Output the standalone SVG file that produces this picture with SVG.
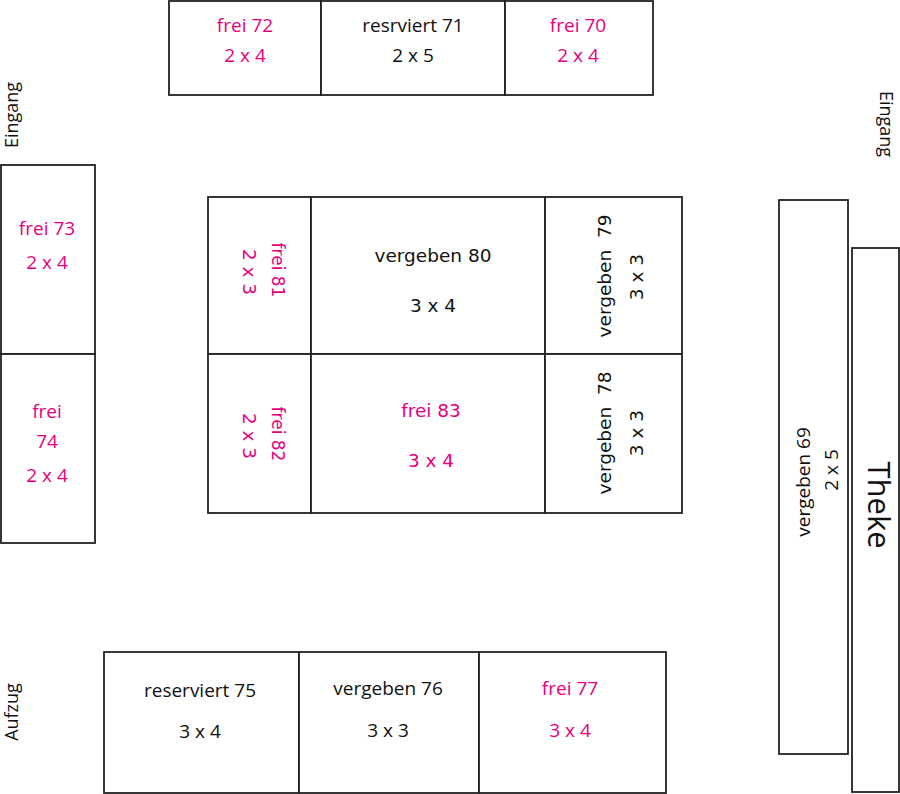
<svg xmlns="http://www.w3.org/2000/svg" width="900" height="794" viewBox="0 0 900 794">
<style>
.b{fill:#fff;stroke:#222;stroke-width:1.8}
.t{font-family:"Open Sans","DejaVu Sans",sans-serif;font-size:19px;text-anchor:middle;fill:#111}
.f{fill:#e6007e}
.m{font-family:"DejaVu Sans",sans-serif;font-size:18.5px}
.s{font-size:18px}
.p{white-space:pre}
</style>
<rect width="900" height="794" fill="#fff"/>
<g id="s72"><rect class="b" x="169" y="1" width="152" height="94"/><text class="t f" x="245" y="32">frei 72</text><text class="t f" x="245" y="62">2 x 4</text></g>
<g id="s71"><rect class="b" x="321" y="1" width="184" height="94"/><text class="t" x="413" y="32">resrviert 71</text><text class="t" x="413" y="62">2 x 5</text></g>
<g id="s70"><rect class="b" x="505" y="1" width="148" height="94"/><text class="t f" x="578" y="32">frei 70</text><text class="t f" x="578" y="62">2 x 4</text></g>

<g id="eingang1"><text class="t s" transform="translate(18,115) rotate(-90)">Eingang</text></g>
<g id="s73"><rect class="b" x="1" y="165" width="94" height="189"/><text class="t f" x="47" y="235">frei 73</text><text class="t f" x="47" y="269">2 x 4</text></g>
<g id="s74"><rect class="b" x="1" y="354" width="94" height="189"/><text class="t f" x="47" y="418">frei</text><text class="t f" x="47" y="448">74</text><text class="t f" x="47" y="482">2 x 4</text></g>

<g id="s81"><rect class="b" x="208" y="197" width="103" height="157"/><text class="t m f" style="font-size:17px" transform="translate(272,270) rotate(90)">frei 81</text><text class="t m f" transform="translate(243,272) rotate(90)">2 x 3</text></g>
<g id="s80"><rect class="b" x="311" y="197" width="234" height="157"/><text class="t m" x="433" y="262">vergeben 80</text><text class="t m" x="433" y="312">3 x 4</text></g>
<g id="s79"><rect class="b" x="545" y="197" width="137" height="157"/><text class="t m p" transform="translate(611,276) rotate(-90)">vergeben  79</text><text class="t m" transform="translate(643,277) rotate(-90)">3 x 3</text></g>
<g id="s82"><rect class="b" x="208" y="354" width="103" height="159"/><text class="t m f" style="font-size:17px" transform="translate(272,434) rotate(90)">frei 82</text><text class="t m f" transform="translate(243,436) rotate(90)">2 x 3</text></g>
<g id="s83"><rect class="b" x="311" y="354" width="234" height="159"/><text class="t m f" x="431" y="417">frei 83</text><text class="t m f" x="431" y="467">3 x 4</text></g>
<g id="s78"><rect class="b" x="545" y="354" width="137" height="159"/><text class="t m p" transform="translate(611,433) rotate(-90)">vergeben  78</text><text class="t m" transform="translate(643,433) rotate(-90)">3 x 3</text></g>

<g id="eingang2"><text class="t s" transform="translate(880,124) rotate(90)">Eingang</text></g>
<g id="s69"><rect class="b" x="779" y="200" width="69" height="554"/><text class="t" transform="translate(810,482) rotate(-90)">vergeben 69</text><text class="t" transform="translate(838,470) rotate(-90)">2 x 5</text></g>
<g id="theke"><rect class="b" x="852" y="248" width="47" height="544"/><text class="t" style="font-size:31px" transform="translate(868,505) rotate(90)">Theke</text></g>

<g id="aufzug"><text class="t s" transform="translate(18,712) rotate(-90)">Aufzug</text></g>
<g id="s75"><rect class="b" x="104" y="652" width="195" height="141"/><text class="t" x="200" y="697">reserviert 75</text><text class="t" x="200" y="738">3 x 4</text></g>
<g id="s76"><rect class="b" x="299" y="652" width="180" height="141"/><text class="t" x="388" y="695">vergeben 76</text><text class="t" x="388" y="737">3 x 3</text></g>
<g id="s77"><rect class="b" x="479" y="652" width="187" height="141"/><text class="t f" x="570" y="695">frei 77</text><text class="t f" x="570" y="737">3 x 4</text></g>
<g id="connectors"/>
</svg>
